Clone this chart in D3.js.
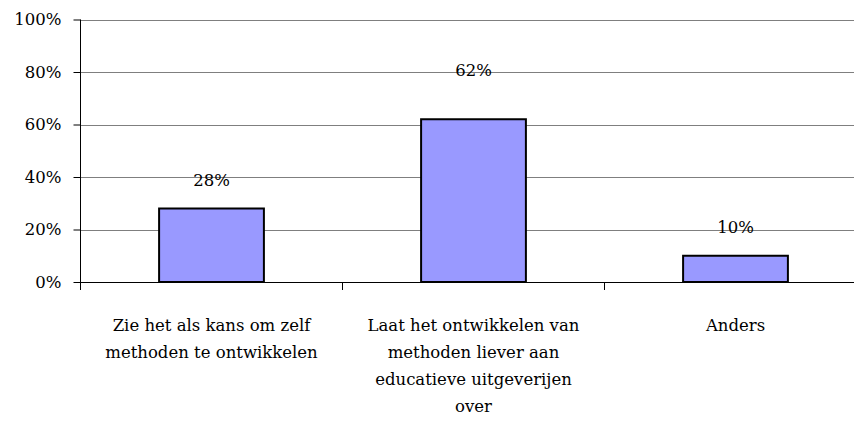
<!DOCTYPE html>
<html><head><meta charset="utf-8">
<script src="https://cdn.jsdelivr.net/npm/d3@7/dist/d3.min.js"></script>
<style>body{margin:0;background:#fff}svg{display:block}</style>
</head><body>
<script>
const categories = [
  ["Zie het als kans om zelf", "methoden te ontwikkelen"],
  ["Laat het ontwikkelen van", "methoden liever aan", "educatieve uitgeverijen", "over"],
  ["Anders"]
];
const values = [28, 62, 10];
const yTicks = [0, 20, 40, 60, 80, 100];

const W = 854, H = 423;
const FONT = "'DejaVu Serif', serif";
const FS = 16.5;
const svg = d3.select("body").append("svg").attr("width", W).attr("height", H);

const x = d3.scaleBand().domain(d3.range(values.length)).range([80.5, 866.5]).paddingInner(0).paddingOuter(0);
const y = d3.scaleLinear().domain([0, 100]).range([282, 19.5]);

// gridlines
svg.append("g").selectAll("line").data(yTicks).join("line")
  .attr("x1", 80.5).attr("x2", W)
  .attr("y1", d => Math.round(y(d)) + 0.5).attr("y2", d => Math.round(y(d)) + 0.5)
  .attr("stroke", d => d === 0 ? "#000" : "#7f7f7f").attr("stroke-width", 1);

// y axis
const yAxis = d3.axisLeft(y).tickValues(yTicks).tickSize(7).tickFormat(d => d + "%");
const gy = svg.append("g").attr("transform", "translate(80.5,0)").call(yAxis);
gy.select(".domain").attr("stroke", "#000").attr("d", `M-0,${y(100)}V${y(0)+0.5}`);
gy.selectAll(".tick line").attr("stroke", "#000");
gy.selectAll(".tick text").attr("font-family", FONT).attr("font-size", FS).attr("fill", "#000").attr("x", -19);

// x category ticks
svg.append("g").selectAll("line").data(d3.range(values.length + 1)).join("line")
  .attr("x1", i => 80.5 + i * x.bandwidth()).attr("x2", i => 80.5 + i * x.bandwidth())
  .attr("y1", 282).attr("y2", 290).attr("stroke", "#000");

// bars
const bw = x.bandwidth() * 0.4;
svg.append("g").selectAll("rect").data(values).join("rect")
  .attr("x", (d, i) => x(i) + (x.bandwidth() - bw) / 2)
  .attr("y", d => y(d))
  .attr("width", bw)
  .attr("height", d => y(0) - y(d))
  .attr("fill", "#9999ff").attr("stroke", "#000").attr("stroke-width", 2);

// value labels
const labelDy = [23, 43, 23];
svg.append("g").selectAll("text").data(values).join("text")
  .attr("x", (d, i) => x(i) + x.bandwidth() / 2)
  .attr("y", (d, i) => y(d) - labelDy[i])
  .attr("text-anchor", "middle")
  .attr("font-family", FONT).attr("font-size", FS).attr("fill", "#000")
  .text(d => d + "%");

// category labels
const cg = svg.append("g").selectAll("text").data(categories).join("text")
  .attr("text-anchor", "middle")
  .attr("font-family", FONT).attr("font-size", FS).attr("fill", "#000");
cg.each(function(lines, i) {
  d3.select(this).selectAll("tspan").data(lines).join("tspan")
    .attr("x", x(i) + x.bandwidth() / 2)
    .attr("y", (l, j) => 331 + j * 27)
    .text(l => l);
});
</script>
</body></html>
